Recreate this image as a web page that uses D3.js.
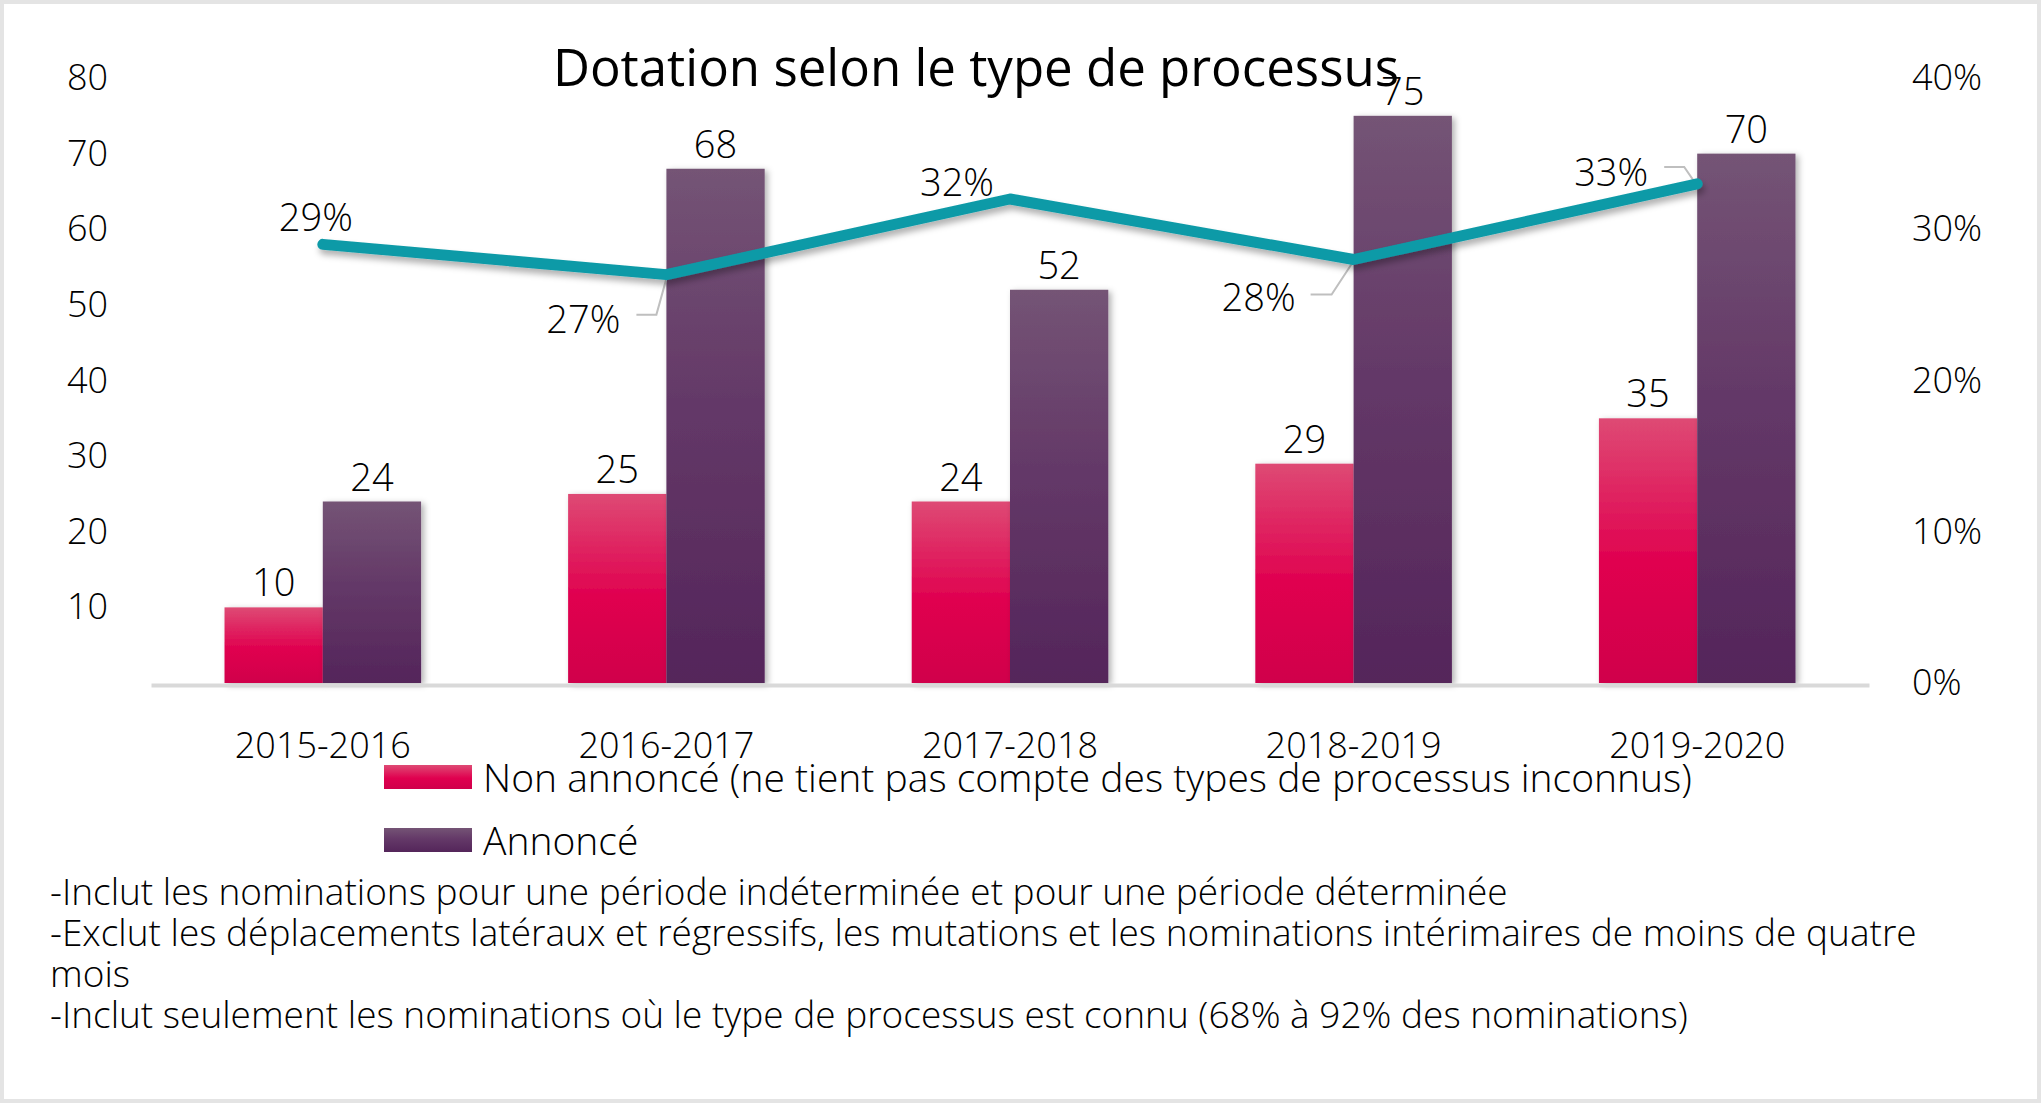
<!DOCTYPE html>
<html lang="fr">
<head>
<meta charset="utf-8">
<title>Dotation selon le type de processus</title>
<script src="https://cdn.jsdelivr.net/npm/d3@7"></script>
<style>
    html, body { margin: 0; padding: 0; background: #fff; }
    svg { display: block; font-family: "Open Sans", "Noto Sans", sans-serif; }
</style>
</head>
<body>
<script>
// DATA
const categories = ["2015-2016", "2016-2017", "2017-2018", "2018-2019", "2019-2020"];
const seriesNames = ["Non annoncé (ne tient pas compte des types de processus inconnus)", "Annoncé"];
const nonAnnonce = [10, 25, 24, 29, 35];
const annonce = [24, 68, 52, 75, 70];
const partNonAnnonce = [0.29, 0.27, 0.32, 0.28, 0.33];
const leftTicks = [10, 20, 30, 40, 50, 60, 70, 80];
const rightTicks = [0, 0.1, 0.2, 0.3, 0.4];
const notes = [
    "-Inclut les nominations pour une période indéterminée et pour une période déterminée",
    "-Exclut les déplacements latéraux et régressifs, les mutations et les nominations intérimaires de moins de quatre",
    "mois",
    "-Inclut seulement les nominations où le type de processus est connu (68% à 92% des nominations)"
];

// layout
const width = 2041, height = 1103;
const plot = {left: 151, right: 1869, top: 78, bottom: 683};

// where the % labels sit relative to their point (+ leader lines)
const pctLabelPos = [
    {dx: -7, dy: -13, anchor: "middle"},
    {dx: -46, dy: 58, anchor: "end", leader: [[-30, 40], [-10, 40], [0, 4]]},
    {dx: -53, dy: -3, anchor: "middle"},
    {dx: -58, dy: 51, anchor: "end", leader: [[-43, 35], [-22, 35], [-1, 3]]},
    {dx: -49, dy: 2, anchor: "end", leader: [[-33, -17], [-13, -17], [0, 2]]}
];

const svg = d3.select("body").append("svg")
    .attr("width", width)
    .attr("height", height);

// gradients and shadows
const defs = svg.append("defs");

function gradient(id, stops) {
    const g = defs.append("linearGradient")
        .attr("id", id)
        .attr("x1", 0).attr("y1", 0)
        .attr("x2", 0).attr("y2", 1);
    stops.forEach(function(s) {
        g.append("stop").attr("offset", s[0]).attr("stop-color", s[1]);
    });
}
gradient("gradPink", [["0%", "#de4a74"], ["55%", "#e0004f"], ["100%", "#d0004b"]]);
gradient("gradPurple", [["0%", "#745475"], ["45%", "#643968"], ["100%", "#54255a"]]);
const fills = ["url(#gradPink)", "url(#gradPurple)"];

defs.append("filter").attr("id", "barShadow")
    .attr("x", "-20%").attr("y", "-10%").attr("width", "150%").attr("height", "130%")
    .append("feDropShadow")
    .attr("dx", 3).attr("dy", 2).attr("stdDeviation", 3)
    .attr("flood-color", "#000").attr("flood-opacity", 0.3);

defs.append("filter").attr("id", "lineShadow")
    .attr("x", "-10%").attr("y", "-30%").attr("width", "120%").attr("height", "170%")
    .append("feDropShadow")
    .attr("dx", 2).attr("dy", 5).attr("stdDeviation", 3)
    .attr("flood-color", "#000").attr("flood-opacity", 0.3);

// outer frame
svg.append("rect")
    .attr("width", width).attr("height", height)
    .attr("fill", "#fff")
    .attr("stroke", "#e4e4e4")
    .attr("stroke-width", 8);

// scales
const x0 = d3.scaleBand()
    .domain(categories)
    .range([plot.left, plot.right])
    .padding(0);

const x1 = d3.scaleBand()
    .domain([0, 1])
    .range([0, x0.bandwidth()])
    .paddingInner(0)
    .paddingOuter(0.748);

const y = d3.scaleLinear()
    .domain([0, 80])
    .range([plot.bottom, plot.top]);

const yPct = d3.scaleLinear()
    .domain([0, 0.4])
    .range([plot.bottom, plot.top]);

// left axis
const axisL = svg.append("g")
    .attr("transform", "translate(108,0)")
    .call(d3.axisLeft(y).tickValues(leftTicks).tickSize(0).tickPadding(0));
axisL.select(".domain").remove();

// right axis
const axisR = svg.append("g")
    .attr("transform", "translate(1912,0)")
    .call(d3.axisRight(yPct).tickValues(rightTicks).tickSize(0).tickPadding(0).tickFormat(d3.format(".0%")));
axisR.select(".domain").remove();

[axisL, axisR].forEach(function(a) {
    a.attr("font-family", null).attr("font-size", null);
    a.selectAll("text")
        .attr("font-size", 36)
        .attr("font-weight", 300)
        .attr("fill", "#000");
});

// bars
const rows = categories.map(function(c, i) {
    return {cat: c, values: [nonAnnonce[i], annonce[i]]};
});

const groups = svg.append("g").selectAll("g")
    .data(rows)
    .enter().append("g")
    .attr("transform", function(d) { return "translate(" + x0(d.cat) + ",0)"; });

groups.selectAll("rect")
    .data(function(d) { return d.values.map(function(v, k) { return {k: k, v: v}; }); })
    .enter().append("rect")
    .attr("x", function(d) { return x1(d.k); })
    .attr("y", function(d) { return y(d.v); })
    .attr("width", x1.bandwidth())
    .attr("height", function(d) { return y(0) - y(d.v); })
    .attr("fill", function(d) { return fills[d.k]; })
    .attr("filter", "url(#barShadow)");

// x axis
const axisB = svg.append("g")
    .attr("transform", "translate(0," + (plot.bottom + 2) + ")")
    .call(d3.axisBottom(x0).tickSize(0).tickSizeOuter(0));
axisB.attr("font-family", null).attr("font-size", null);
axisB.select(".domain")
    .attr("stroke", "#d9d9d9")
    .attr("stroke-width", 4);
axisB.selectAll("text")
    .attr("font-size", 36)
    .attr("font-weight", 300)
    .attr("fill", "#000")
    .attr("dy", 0)
    .attr("y", 73);

// bar value labels
groups.selectAll("text.val")
    .data(function(d) { return d.values.map(function(v, k) { return {k: k, v: v}; }); })
    .enter().append("text")
    .attr("class", "val")
    .attr("x", function(d) { return x1(d.k) + x1.bandwidth() / 2; })
    .attr("y", function(d) { return y(d.v) - 11; })
    .attr("text-anchor", "middle")
    .attr("font-size", 38)
    .attr("font-weight", 300)
    .text(function(d) { return d.v; });

// leader lines for % labels
const cx = function(i) { return x0(categories[i]) + x0.bandwidth() / 2; };
const cy = function(i) { return yPct(partNonAnnonce[i]); };

svg.append("g").selectAll("path")
    .data(pctLabelPos.map(function(p, i) { return {p: p, i: i}; }).filter(function(d) { return d.p.leader; }))
    .enter().append("path")
    .attr("d", function(d) {
        return d3.line()(d.p.leader.map(function(pt) { return [cx(d.i) + pt[0], cy(d.i) + pt[1]]; }));
    })
    .attr("fill", "none")
    .attr("stroke", "#bfbfbf")
    .attr("stroke-width", 2);

// line
const line = d3.line()
    .x(function(d, i) { return cx(i); })
    .y(function(d) { return yPct(d); });

svg.append("path")
    .datum(partNonAnnonce)
    .attr("d", line)
    .attr("fill", "none")
    .attr("stroke", "#0e9aa7")
    .attr("stroke-width", 11)
    .attr("stroke-linecap", "round")
    .attr("stroke-linejoin", "round")
    .attr("filter", "url(#lineShadow)");

// % labels
svg.append("g").selectAll("text")
    .data(partNonAnnonce)
    .enter().append("text")
    .attr("x", function(d, i) { return cx(i) + pctLabelPos[i].dx; })
    .attr("y", function(d, i) { return cy(i) + pctLabelPos[i].dy; })
    .attr("text-anchor", function(d, i) { return pctLabelPos[i].anchor; })
    .attr("font-size", 38)
    .attr("font-weight", 300)
    .text(function(d) { return d3.format(".0%")(d); });

// title
svg.append("text")
    .attr("x", 976)
    .attr("y", 86)
    .attr("text-anchor", "middle")
    .attr("font-size", 51)
    .text("Dotation selon le type de processus");

// legend
const legend = svg.append("g").selectAll("g")
    .data(seriesNames)
    .enter().append("g")
    .attr("transform", function(d, i) { return "translate(384," + (765 + i * 63) + ")"; });

legend.append("rect")
    .attr("width", 88)
    .attr("height", 24)
    .attr("fill", function(d, i) { return fills[i]; });

legend.append("text")
    .attr("x", 99)
    .attr("y", 27)
    .attr("font-size", 39)
    .attr("font-weight", 300)
    .text(function(d) { return d; });

// footnotes
svg.append("g").selectAll("text")
    .data(notes)
    .enter().append("text")
    .attr("x", 50)
    .attr("y", function(d, i) { return 905 + i * 41; })
    .attr("font-size", 37)
    .attr("font-weight", 300)
    .text(function(d) { return d; });
</script>
</body>
</html>
